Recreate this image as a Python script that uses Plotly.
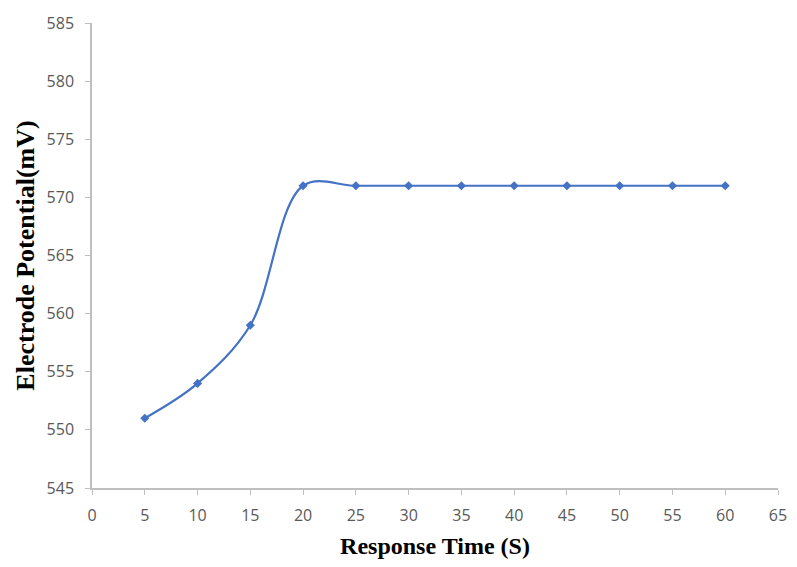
import plotly.graph_objects as go

time_s = [5, 10, 15, 20, 25, 30, 35, 40, 45, 50, 55, 60]
potential_mv = [551, 554, 559, 571, 571, 571, 571, 571, 571, 571, 571, 571]

x_ticks = list(range(0, 70, 5))
y_ticks = list(range(545, 590, 5))

fig = go.Figure()
fig.add_trace(go.Scatter(
    x=time_s, y=potential_mv, mode="lines+markers",
    line=dict(color="#4472C4", width=2.2, shape="spline", smoothing=1.0),
    marker=dict(symbol="diamond", size=7, color="#4472C4"),
    showlegend=False,
))

axis_font = dict(family="Open Sans, Arial, sans-serif", size=16, color="#595959")

fig.update_layout(
    width=781, height=551,
    margin=dict(l=84, r=11, t=15, b=71),
    paper_bgcolor="white", plot_bgcolor="white",
    xaxis=dict(
        range=[0, 65], tickvals=x_ticks, ticktext=[str(v) for v in x_ticks],
        automargin=False, ticklabeloverflow="allow",
        showgrid=False, zeroline=False, showline=True, linecolor="#BFBFBF", linewidth=1.5,
        ticks="outside", ticklen=5, tickcolor="#BFBFBF", tickfont=axis_font,
        ticklabelstandoff=7,
        title=dict(text="<b>Response Time (S)</b>",
                   font=dict(family="Liberation Serif, Times New Roman, serif", size=24, color="black"),
                   standoff=16),
    ),
    yaxis=dict(
        range=[545, 585], tickvals=y_ticks, ticktext=[str(v) for v in y_ticks],
        automargin=False,
        showgrid=False, zeroline=False, showline=True, linecolor="#BFBFBF", linewidth=1.5,
        ticks="outside", ticklen=5, tickcolor="#BFBFBF", tickfont=axis_font,
        ticklabelstandoff=8,
        title=dict(text="<b>Electrode Potential(mV)</b>",
                   font=dict(family="Liberation Serif, Times New Roman, serif", size=26, color="black"),
                   standoff=4),
    ),
)

fig.write_html("out.html")
